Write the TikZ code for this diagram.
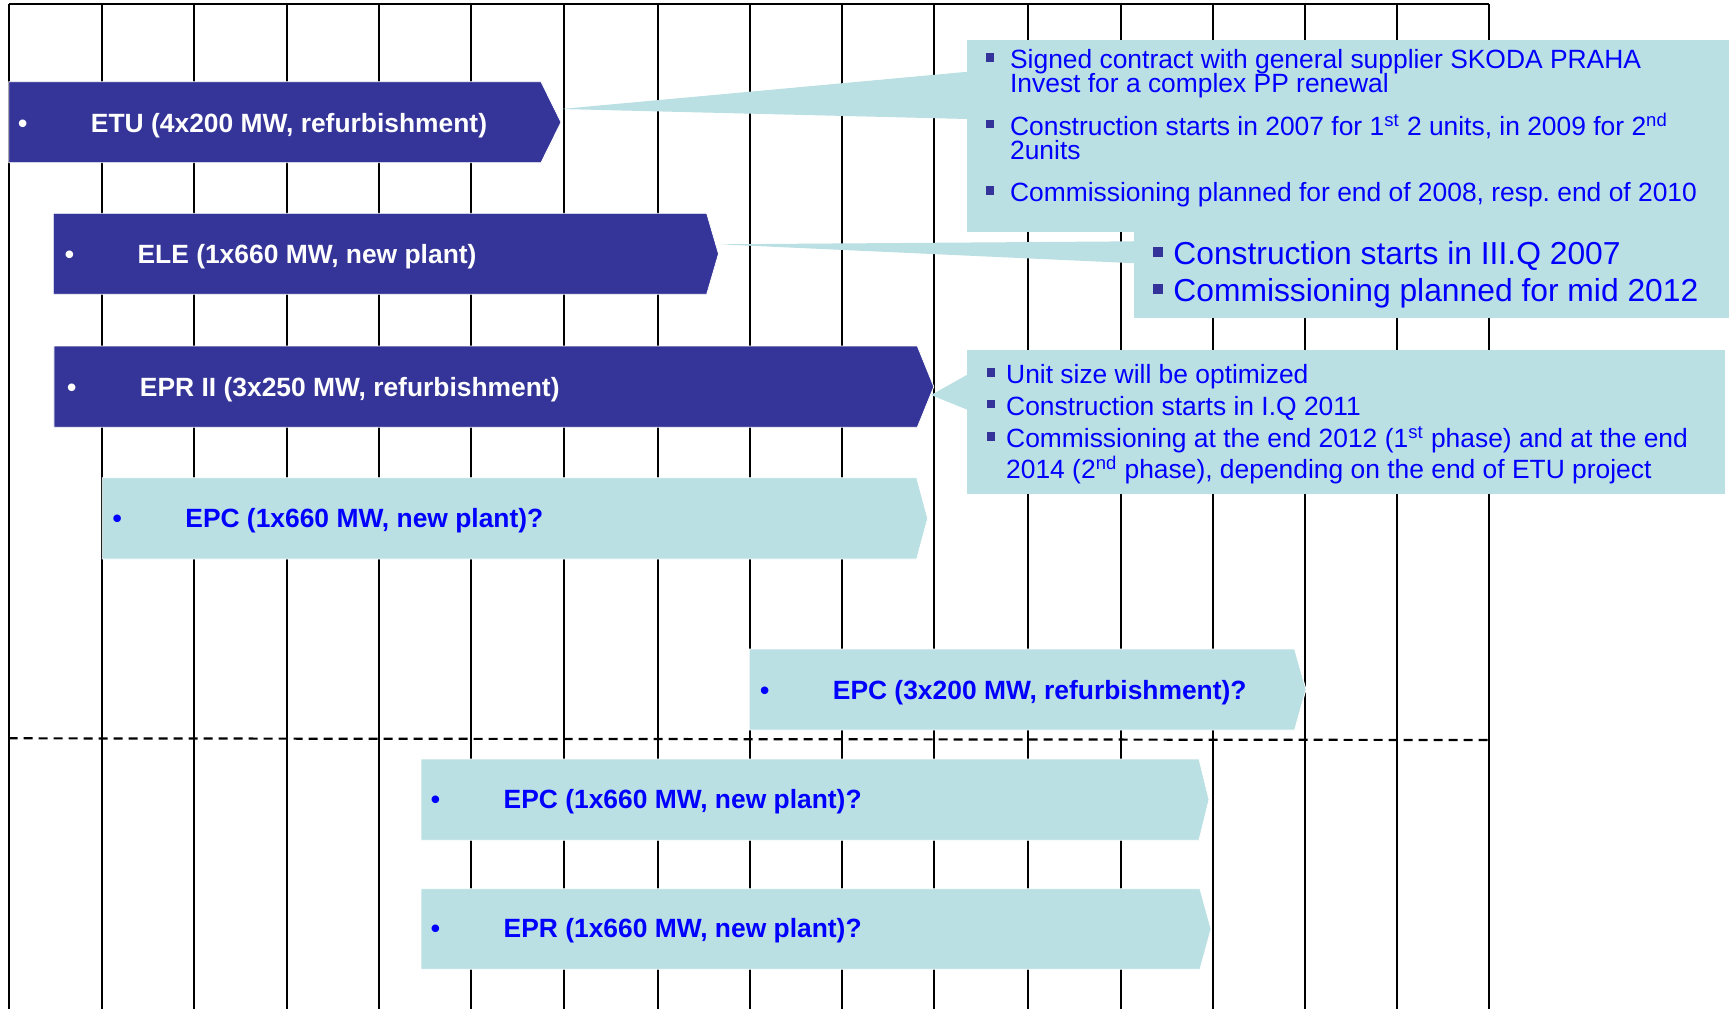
\documentclass[tikz,border=0pt]{standalone}
\usepackage{fontspec}
\setmainfont{Liberation Sans}
\usepackage{xcolor}
\usepackage{tikz}
\definecolor{barblue}{RGB}{53,53,153}
\definecolor{barteal}{RGB}{187,224,227}
\definecolor{txtblue}{RGB}{0,0,255}
\definecolor{bulletblue}{RGB}{51,51,153}
\newcommand{\barbul}{\llap{\textbullet\hspace{31.8pt}}}
\newcommand{\sqbul}[3]{\llap{\textcolor{bulletblue}{\rule[#1]{#2}{#2}}\hspace{#3}}}
\frenchspacing

\begin{document}
\begin{tikzpicture}[x=0.5pt, y=-0.5pt,
  gridline/.style={black, line width=1pt},
  darkbar/.style={fill=barblue, draw=white, line width=0.4pt},
  lightbar/.style={fill=barteal, draw=white, line width=0.4pt},
  notebox/.style={fill=barteal, inner sep=0pt, anchor=north west},
  darklabel/.style={anchor=base west, inner sep=0pt, text=white, font=\fontsize{13.2}{15}\selectfont\bfseries},
  lightlabel/.style={darklabel, text=txtblue},
  notetext/.style={anchor=base west, inner sep=0pt, text=txtblue, font=\fontsize{13.2}{15}\selectfont},
  bignote/.style={notetext, font=\fontsize{15.9}{18}\selectfont}]
\useasboundingbox (0,0) rectangle (1729,1009);
\fill[white] (0,0) rectangle (1729,1009);

\draw[gridline] (8.7,4.3) -- (8.7,1009);
\draw[gridline] (101.8,4.3) -- (101.8,1009);
\draw[gridline] (194.4,4.3) -- (194.4,1009);
\draw[gridline] (286.5,4.3) -- (286.5,1009);
\draw[gridline] (378.6,4.3) -- (378.6,1009);
\draw[gridline] (471.2,4.3) -- (471.2,1009);
\draw[gridline] (563.5,4.3) -- (563.5,1009);
\draw[gridline] (658.1,4.3) -- (658.1,1009);
\draw[gridline] (749.8,4.3) -- (749.8,1009);
\draw[gridline] (841.9,4.3) -- (841.9,1009);
\draw[gridline] (934.3,4.3) -- (934.3,1009);
\draw[gridline] (1027.6,4.3) -- (1027.6,1009);
\draw[gridline] (1120.8,4.3) -- (1120.8,1009);
\draw[gridline] (1212.5,4.3) -- (1212.5,1009);
\draw[gridline] (1305,4.3) -- (1305,1009);
\draw[gridline] (1396.7,4.3) -- (1396.7,1009);
\draw[gridline] (1489.2,4.3) -- (1489.2,1009);
\draw[gridline] (8.7,4.3) -- (1489.2,4.3);
\draw[gridline, line width=1.1pt, dash pattern=on 4.5pt off 3pt] (8.7,738.3) -- (1489.2,740);

\coordinate (etutip) at (561,109);
\coordinate (c1up) at (968,71.7);
\coordinate (c1low) at (968,119);
\coordinate (eletip) at (719,244.3);
\coordinate (c2up) at (1136,241.3);
\coordinate (c2low) at (1136,263.3);
\coordinate (eprtip) at (931,395);
\coordinate (c3up) at (968,374.3);
\coordinate (c3low) at (968,410);
\fill[barteal] (etutip) -- (c1up) -- (c1low) -- cycle;
\fill[barteal] (eletip) -- (c2up) -- (c2low) -- cycle;
\fill[barteal] (eprtip) -- (c3up) -- (c3low) -- cycle;
\node[notebox, minimum width=381.3pt, minimum height=95.85pt] (c1) at (966.4,40) {};
\node[notebox, minimum width=297.5pt, minimum height=43.15pt] (c2) at (1134,231.7) {};
\node[notebox, minimum width=379.15pt, minimum height=72pt] (c3) at (966.4,350) {};

\fill[darkbar] (8.8,81.7) -- (541,81.7) -- (561,122.2) -- (541,162.7) -- (8.8,162.7) -- cycle;
\fill[darkbar] (53.3,213.3) -- (706.7,213.3) -- (718.5,253.8) -- (706.7,294.3) -- (53.3,294.3) -- cycle;
\fill[darkbar] (53.9,346) -- (917.3,346) -- (933.8,386.7) -- (917.3,427.3) -- (53.9,427.3) -- cycle;
\fill[lightbar] (102.3,477.7) -- (916.7,477.7) -- (927.7,518.4) -- (916.7,559) -- (102.3,559) -- cycle;
\fill[lightbar] (749.2,649) -- (1294.6,649) -- (1306,689.5) -- (1294.6,730) -- (749.2,730) -- cycle;
\fill[lightbar] (421,759) -- (1199,759) -- (1209,799.6) -- (1199,840.3) -- (421,840.3) -- cycle;
\fill[lightbar] (421,888.7) -- (1200,888.7) -- (1211,929) -- (1200,969.3) -- (421,969.3) -- cycle;

\node[darklabel] (etu) at (90.6,132.7) {\barbul ETU (4x200 MW, refurbishment)};
\node[darklabel] (ele) at (137.2,263.3) {\barbul ELE (1x660 MW, new plant)};
\node[darklabel] (eprii) at (139.6,396) {\barbul EPR II (3x250 MW, refurbishment)};
\node[lightlabel] (epcnew) at (185,527) {\barbul EPC (1x660 MW, new plant)?};
\node[lightlabel] (epcref) at (832.5,699) {\barbul EPC (3x200 MW, refurbishment)?};
\node[lightlabel] (epcalt) at (503.3,808.3) {\barbul EPC (1x660 MW, new plant)?};
\node[lightlabel] (epralt) at (503.3,937.3) {\barbul EPR (1x660 MW, new plant)?};

\node[notetext] (c1a) at (1009.7,68.3) {\sqbul{3.3pt}{4.4pt}{7.85pt}Signed contract with general supplier SKODA PRAHA};
\node[notetext] (c1b) at (1009.7,92.7) {Invest for a complex PP renewal};
\node[notetext] (c1c) at (1009.7,135) {\sqbul{3.3pt}{4.4pt}{7.85pt}Construction starts in 2007 for 1\textsuperscript{st} 2 units, in 2009 for 2\textsuperscript{nd}};
\node[notetext] (c1d) at (1009.7,159.3) {2units};
\node[notetext] (c1e) at (1009.7,201.7) {\sqbul{3.3pt}{4.4pt}{7.85pt}Commissioning planned for end of 2008, resp. end of 2010};
\node[bignote] (c2a) at (1173,264) {\sqbul{3.65pt}{5pt}{5.25pt}Construction starts in III.Q 2007};
\node[bignote] (c2b) at (1173,301.7) {\sqbul{3.65pt}{5pt}{5.25pt}Commissioning planned for mid 2012};
\node[notetext] (c3a) at (1005.8,383.3) {\sqbul{3.3pt}{4.2pt}{5.55pt}Unit size will be optimized};
\node[notetext] (c3b) at (1005.8,415) {\sqbul{3.3pt}{4.2pt}{5.55pt}Construction starts in I.Q 2011};
\node[notetext] (c3c) at (1005.8,447.3) {\sqbul{3.3pt}{4.2pt}{5.55pt}Commissioning at the end 2012 (1\textsuperscript{st} phase) and at the end};
\node[notetext] (c3d) at (1005.8,478.3) {2014 (2\textsuperscript{nd} phase), depending on the end of ETU project};
\end{tikzpicture}
\end{document}
